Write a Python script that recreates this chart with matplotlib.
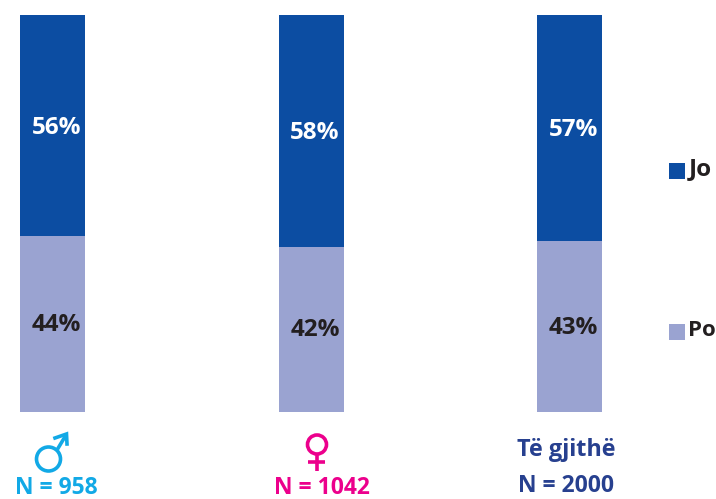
import matplotlib
matplotlib.use('Agg')
import matplotlib.pyplot as plt
from matplotlib.patches import Circle

plt.rcParams['font.family'] = ['Open Sans', 'DejaVu Sans']

groups = ['male', 'female', 'all']
po = [44.3, 41.6, 43]
jo = [55.7, 58.4, 57]
n_labels = ['N = 958', 'N = 1042', 'N = 2000']
n_colors = ['#12a9e6', '#ec008c', '#27408f']

c_jo = '#0c4da2'
c_po = '#9aa3d1'

fig = plt.figure(figsize=(7.16, 4.99), dpi=100)
ax = fig.add_axes([0, 0, 1, 1])
ax.set_xlim(0, 716)
ax.set_ylim(499, 0)
ax.axis('off')

# bar scale: 100% = 397 px, base at y=412
base = 412
scale = 3.97
centers = [52.5, 311, 569.5]
n_x = [56, 322, 566.5]
n_y = [488, 488, 486]
w = 65

for i, x in enumerate(centers):
    ax.bar(x, po[i] * scale, width=w, bottom=base - po[i] * scale, color=c_po)
    ax.bar(x, jo[i] * scale, width=w, bottom=base - (po[i] + jo[i]) * scale, color=c_jo)
    ax.text(x + 4, base - po[i] * scale / 2 + 1, f'{po[i]:.0f}%', ha='center', va='center',
            fontsize=17.5, fontweight='bold', color='#231f20')
    ax.text(x + 4, base - po[i] * scale - jo[i] * scale / 2 + 2, f'{jo[i]:.0f}%', ha='center', va='center',
            fontsize=17.5, fontweight='bold', color='white')
    ax.text(n_x[i], n_y[i], n_labels[i], ha='center', va='center', fontsize=16.5,
            fontweight='bold', color=n_colors[i])

# gender symbols, drawn by hand since the glyphs have other proportions
lw = 2.6
ax.add_patch(Circle((48.5, 459), 12, fill=False, ec=n_colors[0], lw=lw))
ax.plot([57, 66], [450, 435], color=n_colors[0], lw=lw, solid_capstyle='butt')
ax.plot([55, 66.5, 67], [438, 434, 444], color=n_colors[0], lw=lw, solid_joinstyle='miter')

ax.add_patch(Circle((317, 444.5), 9.5, fill=False, ec=n_colors[1], lw=lw))
ax.plot([317, 317], [455, 471], color=n_colors[1], lw=lw, solid_capstyle='butt')
ax.plot([308, 325], [462, 462], color=n_colors[1], lw=lw, solid_capstyle='butt')

ax.text(566.5, 450, 'Të gjithë', ha='center', va='center', fontsize=16.8, fontweight='bold', color=n_colors[2])

# legend
ax.scatter([677], [171], marker='s', s=132, color=c_jo, linewidths=0)
ax.scatter([677], [332], marker='s', s=132, color=c_po, linewidths=0)
ax.text(689, 169, 'Jo', ha='left', va='center', fontsize=17.5, fontweight='bold', color='#231f20')
ax.text(688.5, 331, 'Po', ha='left', va='center', fontsize=16, fontweight='bold', color='#231f20')

fig.savefig('out.png', dpi=100)
